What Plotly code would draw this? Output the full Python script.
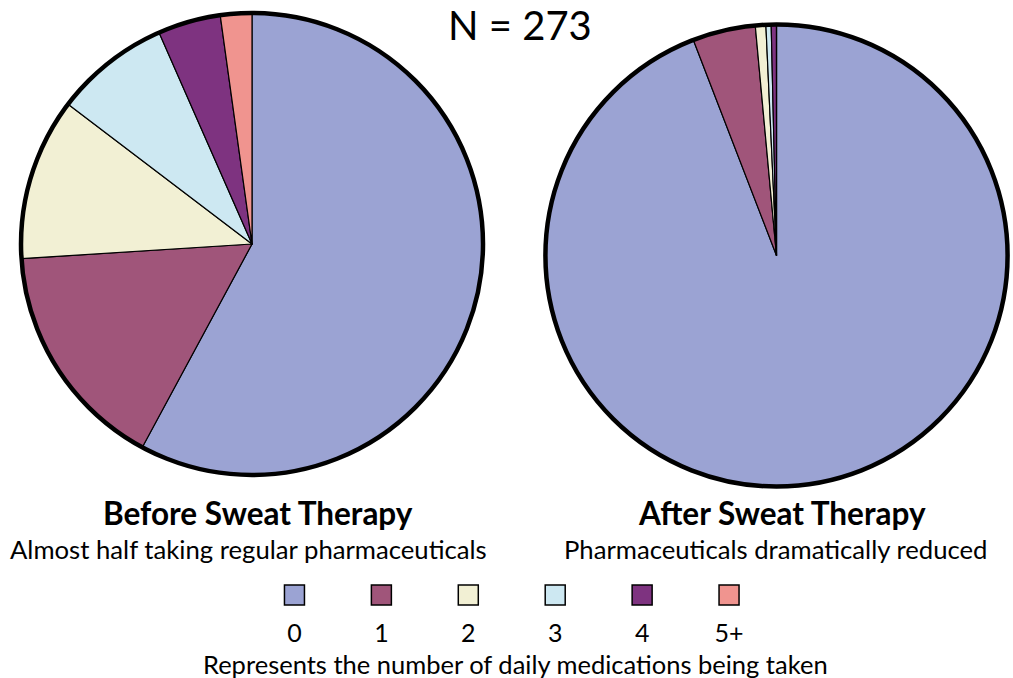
import plotly.graph_objects as go

categories = ["0", "1", "2", "3", "4", "5+"]
before_counts = [158, 44, 31, 22, 12, 6]
after_counts = [257, 12, 2, 1, 1, 0]
colors = ["#9BA3D3", "#A0557A", "#F2F0D4", "#CDE8F2", "#7E3380", "#F0948F"]

title_text = "N = 273"
before_title = "Before Sweat Therapy"
before_sub = "Almost half taking regular pharmaceuticals"
after_title = "After Sweat Therapy"
after_sub = "Pharmaceuticals dramatically reduced"
legend_caption = "Represents the number of daily medications being taken"

W, H = 1013, 678
FONT = "Lato"


def dom(cx, cy, r):
    return dict(x=[(cx - r) / W, (cx + r) / W], y=[(H - (cy + r)) / H, (H - (cy - r)) / H])


left_dom = dom(252, 244, 231)
right_dom = dom(776.5, 255.5, 231)

fig = go.Figure()
for vals, d in [(before_counts, left_dom), (after_counts, right_dom)]:
    fig.add_trace(go.Pie(
        labels=categories, values=vals, sort=False, direction="clockwise", rotation=0,
        marker=dict(colors=colors, line=dict(color="black", width=1.2)),
        textinfo="none", hoverinfo="label+value", domain=d, showlegend=False,
    ))
    # thick outer ring
    fig.add_trace(go.Pie(
        labels=["all"], values=[1], sort=False,
        marker=dict(colors=["rgba(0,0,0,0)"], line=dict(color="black", width=4.5)),
        textinfo="none", hoverinfo="skip", domain=d, showlegend=False,
    ))

# legend swatches as a scatter on its own axes
fig.add_trace(go.Scatter(
    x=list(range(len(categories))), y=[0] * len(categories), mode="markers",
    marker=dict(symbol="square", size=20, color=colors, line=dict(color="black", width=1.5)),
    xaxis="x", yaxis="y", showlegend=False, hoverinfo="skip",
))

fig.update_layout(
    width=W, height=H, margin=dict(l=0, r=0, t=0, b=0),
    paper_bgcolor="white", plot_bgcolor="white",
    font=dict(family=FONT, color="black"),
    xaxis=dict(domain=[251 / W, 772.5 / W], range=[-0.5, 5.5], tickvals=list(range(6)),
               ticktext=categories, showgrid=False, zeroline=False, showline=False,
               ticks="", tickfont=dict(size=25, family=FONT), fixedrange=True),
    yaxis=dict(domain=[(H - 616) / H, (H - 574) / H], range=[-1, 1], visible=False,
               fixedrange=True),
    annotations=[
        dict(text=title_text, x=520 / W, y=(H - 25) / H, xref="paper", yref="paper",
             showarrow=False, font=dict(size=40, family=FONT), xanchor="center", yanchor="middle"),
        dict(text="<b>%s</b>" % before_title, x=258 / W, y=(H - 513) / H, xref="paper", yref="paper",
             showarrow=False, font=dict(size=31.5, family=FONT), xanchor="center", yanchor="middle"),
        dict(text=before_sub, x=248 / W, y=(H - 549) / H, xref="paper", yref="paper",
             showarrow=False, font=dict(size=25.7, family=FONT), xanchor="center", yanchor="middle"),
        dict(text="<b>%s</b>" % after_title, x=782 / W, y=(H - 513) / H, xref="paper", yref="paper",
             showarrow=False, font=dict(size=31.5, family=FONT), xanchor="center", yanchor="middle"),
        dict(text=after_sub, x=776 / W, y=(H - 549) / H, xref="paper", yref="paper",
             showarrow=False, font=dict(size=25.7, family=FONT), xanchor="center", yanchor="middle"),
        dict(text=legend_caption, x=515 / W, y=(H - 664) / H, xref="paper", yref="paper",
             showarrow=False, font=dict(size=25.5, family=FONT), xanchor="center", yanchor="middle"),
    ],
)

fig.write_html("out.html", config={"displayModeBar": False},
               post_script="document.body.style.margin='0';document.body.style.overflow='hidden';")
